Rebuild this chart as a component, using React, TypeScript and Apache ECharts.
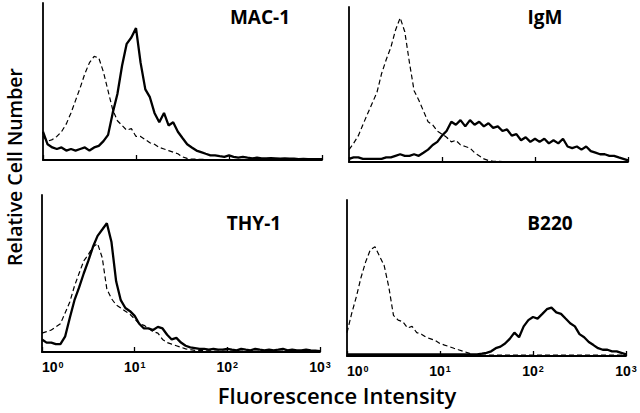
import React, { useEffect, useRef } from "react";
import * as echarts from "echarts";

const intensity = [1.00,1.12,1.26,1.41,1.58,1.78,2.00,2.24,2.51,2.82,3.16,3.55,3.98,4.47,5.01,5.62,6.31,7.08,7.94,8.91,10.0,11.2,12.6,14.1,15.8,17.8,20.0,22.4,25.1,28.2,31.6,35.5,39.8,44.7,50.1,56.2,63.1,70.8,79.4,89.1,100,112,126,141,158,178,200,224,251,282,316,355,398,447,501,562,631,708,794,891,1000];

const panelNames = ["MAC-1", "IgM", "THY-1", "B220"];
const tickExponents: Record<number, string> = { 1: "0", 10: "1", 100: "2", 1000: "3" };

const mac1Control = [15,12,13,15,18,23,30,38,46,55, 62,66,65,56,44,32,25,22,19,20, 15,15,13,11,10,8,7,6,5,4, 2,1,0.5,0.5,0.4,0.3,0.3,0.3,0.3,0.3, 0.3,0.3,0.3,0.3,0.3,0.3,0.3,0.3,0.3,0.3, 0.3,0.3,0.3,0.3,0.3,0.3,0.3,0.3,0.3,0.3,0.3];
const mac1Stained = [18,10,8,7,8,6,7,6,7,8, 6,8,9,12,16,30,42,60,74,78, 84,62,45,40,30,24,30,22,24,18, 14,10,8,6,5,4,3,3,2.5,2, 3,2,1.5,2,1.5,1,1.5,1,1,1.2, 1,0.8,1,0.8,0.8,0.6,0.7,0.6,0.5,0.5,0.5];

const igmControl = [8,12,17,24,31,38,45,57,66,74, 85,93,84,64,46,40,33,26,24,20, 18,16,13,14,11,10,9,6,4,2, 1,0.5,0.5,0.3,0.3,0.3,0.3,0.3,0.3,0.3, 0.3,0.3,0.3,0.3,0.3,0.3,0.3,0.3,0.3,0.3, 0.3,0.3,0.3,0.3,0.3,0.3,0.3,0.3,0.3,0.3,0.3];
const igmStained = [2,3,3,2,2,2,2,2,3,3, 4,5,4,4,5,4,6,8,11,13, 17,20,26,24,27,23,27,24,26,23, 25,22,23,20,21,17,18,14,16,13, 15,13,15,12,14,12,15,10,9,10, 8,10,7,6,5,5,4,4,3,2,1];

const thy1Control = [12,13,14,16,18,25,32,42,50,58, 62,67,69,60,40,34,30,28,26,24, 21,18,17,15,13,12,8,6,5,4, 3,2,1.5,1,1,0.8,0.8,0.6,0.6,0.5, 0.5,0.5,0.5,0.5,0.5,0.5,0.5,0.5,0.5,0.5, 0.5,0.5,0.5,0.5,0.5,0.5,0.5,0.5,0.5,0.5,0.5];
const thy1Stained = [8,6,6,5,5,10,22,33,41,50, 58,67,74,78,82,70,45,33,28,26, 23,18,15,15,14,16,15,11,8,9, 6,4,3,2.5,2,2,1.5,2,1.5,1.5, 2,1.5,1,2,1.5,1,2,1.5,1,1.5, 1,1.5,2,1,1.5,1,1,1.5,1,0.8,0.5];

const b220Control = [15,27,38,50,60,68,70,64,58,44, 26,23,22,18,19,15,14,12,11,10, 8,7,6,5,4,3,2,1,0.5,0.5, 0.5,0.5,0.5,0.5,0.5,0.5,0.5,0.5,0.5,0.5, 0.5,0.5,0.5,0.5,0.5,0.5,0.5,0.5,0.5,0.5, 0.5,0.5,0.5,0.5,0.5,0.5,0.5,0.5,0.5,0.5,0.5];
const b220Stained = [1,1,1,1,1,1,1,1,1,1, 1,1,1,1,1,1,1,1,1,1, 1,1,1,1,1,1,1,1,1,1.5, 2,3,5,6,8,11,15,12,19,23, 25,24,27,30,31,28,27,24,21,19, 14,12,9,7,5,4,4,3,3,2,1];

const controls = [mac1Control, igmControl, thy1Control, b220Control];
const stained = [mac1Stained, igmStained, thy1Stained, b220Stained];

const grids = [
  { left: 43, top: 3, width: 279, height: 157 },
  { left: 349, top: 7, width: 279, height: 155 },
  { left: 42, top: 195, width: 278, height: 157 },
  { left: 347, top: 200, width: 279, height: 156 },
];

const pairs = (ys: number[]) => intensity.map((x, i) => [x, ys[i]]);

export default function App() {
  const ref = useRef<HTMLDivElement>(null);
  useEffect(() => {
    if (!ref.current) return;
    const chart = echarts.init(ref.current, null, { renderer: "svg" });
    const axisLine = { show: true, lineStyle: { color: "#000", width: 1.8 } };
    const xAxis = grids.map((_, i) => ({
      type: "log",
      logBase: 10,
      min: 1,
      max: 1000,
      gridIndex: i,
      axisLine: { ...axisLine, onZero: false },
      axisTick: { show: true, inside: true, length: 5, lineStyle: { color: "#000", width: 1.3 } },
      minorTick: { show: false },
      splitLine: { show: false },
      axisLabel: {
        show: i >= 2,
        alignMinLabel: "left",
        formatter: (v: number) => {
          const e = tickExponents[Math.round(v)];
          return e ? "{b|10}{s|" + e + "}" : "";
        },
        margin: 8,
        rich: {
          b: { color: "#000", fontFamily: "Liberation Sans", fontWeight: "bold", fontSize: 14, lineHeight: 14 },
          s: { color: "#000", fontFamily: "Liberation Sans", fontWeight: "bold", fontSize: 9, lineHeight: 9, verticalAlign: "top", padding: [0, 0, 0, 1] },
        },
      },
    }));
    const yAxis = grids.map((_, i) => ({
      type: "value",
      min: 0,
      max: 100,
      gridIndex: i,
      axisLine,
      axisTick: { show: false },
      axisLabel: { show: false },
      splitLine: { show: false },
    }));
    const series: any[] = [];
    grids.forEach((_, i) => {
      series.push({
        type: "line",
        name: panelNames[i] + " control",
        xAxisIndex: i,
        yAxisIndex: i,
        data: pairs(controls[i]),
        showSymbol: false,
        lineStyle: { color: "#000", width: 1.2, type: [5, 3] },
        z: 2,
      });
      series.push({
        type: "line",
        name: panelNames[i],
        xAxisIndex: i,
        yAxisIndex: i,
        data: pairs(stained[i]),
        showSymbol: false,
        lineStyle: { color: "#000", width: 2.3 },
        z: 3,
      });
    });
    const titleFont = { fontFamily: "Open Sans", fontWeight: 700, fontSize: 19, fill: "#000" };
    const titlePos = [
      [260, 17],
      [545, 17],
      [254, 223],
      [550, 223],
    ];
    const graphic: any[] = panelNames.map((n, i) => ({
      type: "text",
      x: titlePos[i][0],
      y: titlePos[i][1],
      style: { ...titleFont, text: n, textAlign: "center", textVerticalAlign: "middle" },
    }));
    graphic.push({
      type: "text",
      x: 14,
      y: 167,
      rotation: Math.PI / 2,
      style: { ...titleFont, fontWeight: 600, fontSize: 19.5, text: "Relative Cell Number", textAlign: "center", textVerticalAlign: "middle" },
    });
    graphic.push({
      type: "text",
      x: 337,
      y: 395,
      style: { ...titleFont, fontWeight: 600, fontSize: 22, text: "Fluorescence Intensity", textAlign: "center", textVerticalAlign: "middle" },
    });
    chart.setOption({
      animation: false,
      backgroundColor: "#fff",
      grid: grids,
      xAxis,
      yAxis,
      series,
      graphic,
    });
    return () => chart.dispose();
  }, []);
  return <div ref={ref} style={{ position: "fixed", left: 0, top: 0, width: 640, height: 413 }} />;
}
